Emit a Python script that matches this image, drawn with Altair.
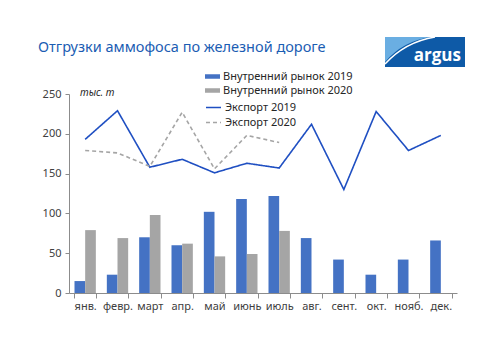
import altair as alt
import pandas as pd

months = ["янв.", "февр.", "март", "апр.", "май", "июнь", "июль", "авг.", "сент.", "окт.", "нояб.", "дек."]
dom19 = [15, 23, 70, 60, 102, 118, 122, 69, 42, 23, 42, 66]
dom20 = [79, 69, 98, 62, 46, 49, 78]
exp19 = [193, 229, 158, 168, 151, 163, 157, 212, 130, 228, 179, 198]
exp20 = [179, 176, 159, 227, 156, 198, 189]

bar_series = ["Внутренний рынок 2019", "Внутренний рынок 2020"]
line_series = ["Экспорт 2019", "Экспорт 2020"]
y_ticks = [0, 50, 100, 150, 200, 250]

title_text = "Отгрузки аммофоса по железной дороге"
unit_text = "тыс. т"

FONT = "Noto Sans"
BLUE_BAR = "#4472C4"
GRAY = "#A5A5A5"
BLUE_LINE = "#1F4FC2"
TITLE_BLUE = "#1B5DB3"
AXIS = "#8c8c8c"

rows = []
for m, v in zip(months, dom19):
    rows.append({"month": m, "series": bar_series[0], "value": v})
for m, v in zip(months, dom20):
    rows.append({"month": m, "series": bar_series[1], "value": v})
bars_df = pd.DataFrame(rows)

lrows = []
for m, v in zip(months, exp19):
    lrows.append({"month": m, "series": line_series[0], "value": v})
for m, v in zip(months, exp20):
    lrows.append({"month": m, "series": line_series[1], "value": v})
lines_df = pd.DataFrame(lrows)

xenc = alt.X(
    "month:N", sort=months, title=None,
    scale=alt.Scale(paddingInner=0.34, paddingOuter=0.17),
    axis=alt.Axis(labelAngle=0, labelFont=FONT, labelFontSize=11, labelColor="#404040",
                  domain=True, domainColor=AXIS, tickColor=AXIS, tickSize=5, tickBand="extent",
                  labelPadding=2, grid=False, labelOverlap=False),
)
yenc = alt.Y(
    "value:Q", title=None,
    scale=alt.Scale(domain=[0, 250], nice=False, zero=True),
    axis=alt.Axis(values=y_ticks, tickCount=6, labelFont=FONT, labelFontSize=11,
                  labelColor="#404040", domain=True, domainColor=AXIS, domainWidth=1,
                  tickColor=AXIS, tickSize=4, labelPadding=4, grid=False,
                  labelOverlap=False, labelFlush=False),
)

legend_common = dict(
    orient="none", title=None, labelFont=FONT, labelFontSize=11, labelColor="#262626",
    symbolSize=225, rowPadding=1, labelOffset=3, padding=0,
)

bars = alt.Chart(bars_df).mark_bar(stroke=None).encode(
    x=xenc,
    y=yenc,
    xOffset=alt.XOffset("series:N", sort=bar_series),
    fill=alt.Fill(
        "series:N",
        scale=alt.Scale(domain=bar_series, range=[BLUE_BAR, GRAY]),
        legend=alt.Legend(legendX=136, legendY=-25, symbolType="M-1,-0.3H1V0.3H-1Z",
                          symbolStrokeWidth=0, **legend_common),
    ),
)

line_legend = dict(legendX=136, legendY=5, symbolType="stroke", symbolStrokeWidth=1.6, **legend_common)
lines = alt.Chart(lines_df).mark_line(strokeWidth=1.6).encode(
    x=xenc,
    y=yenc,
    stroke=alt.Stroke(
        "series:N",
        scale=alt.Scale(domain=line_series, range=[BLUE_LINE, GRAY]),
        legend=alt.Legend(**line_legend),
    ),
    strokeDash=alt.StrokeDash(
        "series:N",
        scale=alt.Scale(domain=line_series, range=[[1, 0], [4, 3]]),
        legend=alt.Legend(**line_legend),
    ),
)

title = alt.Chart(pd.DataFrame({"t": [title_text]})).mark_text(
    align="left", baseline="alphabetic", font=FONT, fontSize=14.5, color=TITLE_BLUE
).encode(text="t:N", x=alt.value(-31), y=alt.value(-42))

unit = alt.Chart(pd.DataFrame({"t": [unit_text]})).mark_text(
    align="left", baseline="middle", font=FONT, fontSize=10, fontStyle="italic", color="#262626"
).encode(text="t:N", x=alt.value(11), y=alt.value(-1))

# argus logo
one = pd.DataFrame({"a": [1]})
logo_bg = alt.Chart(one).mark_point(
    shape="M-1,-0.375H1V0.375H-1Z", filled=True, size=6400, fill="#0E5AA7", opacity=1, strokeWidth=0
).encode(x=alt.value(356), y=alt.value(-42))
logo_light = alt.Chart(one).mark_point(
    shape="M-1,-0.375H0.15Q-0.55,-0.28,-1,0.25Z", filled=True, size=6400, fill="#6AAEE2", opacity=1,
    strokeWidth=0,
).encode(x=alt.value(356), y=alt.value(-42))
logo_curve = alt.Chart(one).mark_point(
    shape="M-1,0.3Q-0.5,-0.25,0.25,-0.375", filled=False, size=6400, stroke="white", opacity=1,
    strokeWidth=1.5,
).encode(x=alt.value(356), y=alt.value(-42))
logo_text = alt.Chart(pd.DataFrame({"t": ["argus"]})).mark_text(
    align="right", baseline="alphabetic", font="Open Sans", fontSize=17, fontWeight="bold", color="white"
).encode(text="t:N", x=alt.value(392), y=alt.value(-33))

chart = alt.layer(bars, lines, title, unit, logo_bg, logo_light, logo_curve, logo_text).resolve_scale(
    fill="independent", stroke="independent", strokeDash="independent"
).properties(
    width=388, height=199,
    autosize=alt.AutoSizeParams(type="none"),
    padding={"left": 69, "top": 94, "right": 43, "bottom": 60},
    background="white",
).configure_view(stroke=None).configure_axisY(
    domain=True, domainColor=AXIS, labelOverlap=False, ticks=True
)

chart.save("out.html", embed_options={"renderer": "svg", "actions": False})
